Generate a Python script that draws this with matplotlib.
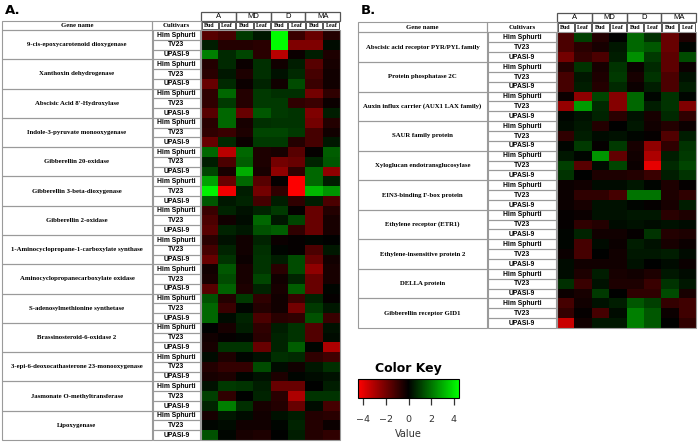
import numpy as np
import matplotlib
matplotlib.use('Agg')
import matplotlib.pyplot as plt
from matplotlib.colors import LinearSegmentedColormap, Normalize
from matplotlib.cm import ScalarMappable
from matplotlib.patches import Rectangle

# data ------------------------------------------------------------
cultivars = ['Him Sphurti', 'TV23', 'UPASI-9']
groups = ['A', 'MD', 'D', 'MA']
tissues = ['Bud', 'Leaf']

genes_a = ['9-cis-epoxycarotenoid dioxygenase', 'Xanthoxin dehydrogenase',
           "Abscisic Acid 8'-Hydroxylase", 'Indole-3-pyruvate monooxygenase',
           'Gibberellin 20-oxidase', 'Gibberellin 3-beta-dioxygenase',
           'Gibberellin 2-oxidase', '1-Aminocyclopropane-1-carboxylate synthase',
           'Aminocyclopropanecarboxylate oxidase', 'S-adenosylmethionine synthetase',
           'Brassinosteroid-6-oxidase 2', '3-epi-6-deoxocathasterone 23-monooxygenase',
           'Jasmonate O-methyltransferase', 'Lipoxygenase']

values_a = [
    [-1.5, -1.2, 1.0, 0.4, 4.4, -1.0, -1.8, -0.6],
    [0.5, -0.6, -0.6, -0.7, 4.4, -2.2, -2.2, 0.2],
    [2.2, 0.7, 1.2, -0.7, -3.2, -0.2, 0.5, -0.5],
    [-0.6, 0.7, -0.2, 0.8, -0.3, 0.5, -1.5, -0.4],
    [-0.7, 0.4, -0.5, 0.8, 0.3, 0.7, -1.2, -0.3],
    [-1.8, 0.7, -0.2, 0.6, -0.3, 1.3, -1.0, -0.3],
    [-0.8, 1.8, -0.6, 1.0, 0.8, 0.8, -2.0, -0.8],
    [-0.8, 1.0, -0.6, 1.0, 1.0, -0.8, -1.0, -0.2],
    [-1.5, 1.8, -1.8, 1.5, 1.0, 0.9, -2.2, 0.5],
    [-0.7, 1.8, -0.4, 0.8, 0.9, 0.9, -2.0, -0.6],
    [-0.8, -1.0, -0.5, 1.2, 1.2, 1.0, -1.2, -0.3],
    [-1.8, 0.7, -0.2, 1.0, 1.0, -0.6, -1.2, 0.4],
    [1.8, -3.2, 1.8, -0.5, -0.4, -1.5, -0.1, 1.6],
    [0.5, -1.3, 1.6, -0.5, -2.0, -1.8, 0.6, 1.5],
    [1.2, -0.4, 3.0, -0.4, -2.5, -0.8, 1.8, -2.5],
    [2.8, -1.8, 1.8, -1.5, -0.1, -4.4, 1.8, 0.5],
    [4.2, -4.2, 0.5, -2.0, -0.8, -4.4, 3.2, 2.6],
    [1.5, 0.4, 0.6, -1.2, 0.5, -0.8, 0.5, -1.3],
    [-1.0, 0.6, 0.3, 0.6, 1.0, -0.1, -1.8, -0.6],
    [-1.3, -0.3, 0.2, 1.8, 0.4, 1.2, -1.8, -0.4],
    [-1.5, 0.6, 0.4, 1.4, 1.6, -0.8, -1.8, -0.4],
    [-0.7, 0.3, -0.3, 0.6, -0.2, -0.1, 0.1, 0.0],
    [-1.2, 0.6, -0.3, 0.8, 0.1, -0.1, -1.3, 0.4],
    [-1.8, 0.9, -0.2, 0.9, 0.5, 1.3, -1.8, -0.3],
    [-0.3, 1.5, -0.4, 0.9, -0.7, 1.3, -2.5, -0.4],
    [-0.4, 1.3, -0.4, 1.2, -0.3, 0.6, -1.8, -0.4],
    [-1.5, 1.7, -0.5, 0.6, -0.4, 1.6, -1.8, 0.1],
    [1.4, -0.6, 1.0, -0.8, -0.3, -1.0, 0.6, -0.1],
    [1.8, -1.0, 0.1, -0.6, -0.3, -2.0, 1.0, 0.4],
    [1.8, 0.2, 0.6, -1.3, -0.7, -0.8, 1.4, -1.0],
    [0.0, -0.4, 0.5, -0.8, 0.5, 0.9, -1.4, 0.3],
    [-0.3, -0.1, 0.1, -0.7, 0.6, 0.9, -1.4, 0.2],
    [-0.4, 0.9, 0.9, -1.8, 0.6, 1.6, 0.1, -3.0],
    [0.2, -0.5, 0.1, 0.3, 0.8, 0.7, -0.8, -1.1],
    [-0.6, -0.9, -0.9, 1.3, 0.2, -0.3, 0.4, 0.8],
    [-0.4, -0.5, 0.1, 0.3, -0.5, 0.1, 0.2, 0.3],
    [0.3, 1.0, 0.9, 0.5, -1.8, -1.8, 0.0, 0.5],
    [1.1, -0.8, 0.0, 0.6, -0.7, -3.0, 0.9, 0.9],
    [0.6, 2.2, 0.8, -0.4, -0.6, -1.8, 0.2, -1.2],
    [-0.4, 0.4, 0.2, -0.3, 0.3, 0.5, -0.6, -0.7],
    [0.1, 0.2, -0.3, -0.3, 0.1, 0.6, -0.6, -0.2],
    [1.4, 0.1, -0.4, -0.5, 0.0, 0.5, -0.6, -0.8],
]

genes_b = ['Abscisic acid receptor PYR/PYL family', 'Protein phosphatase 2C',
           'Auxin influx carrier (AUX1 LAX family)', 'SAUR family protein',
           'Xyloglucan endotransglucosylase', 'EIN3-binding F-box protein',
           'Ethylene receptor (ETR1)', 'Ethylene-insensitive protein 2',
           'DELLA protein', 'Gibberellin receptor GID1']

values_b = [
    [-1.3, 1.1, -0.6, 0.0, 1.8, 0.8, -1.8, -0.5],
    [-1.3, -0.7, -0.4, 0.4, 1.8, 1.5, -1.8, 0.1],
    [-2.0, -0.9, -1.3, 0.5, 2.5, 1.0, -1.6, 1.3],
    [-0.6, 0.9, -0.4, 0.9, -0.2, 0.7, -1.6, -0.2],
    [-1.2, 0.4, -0.5, 1.0, -0.4, 0.9, -1.3, 0.3],
    [-1.2, 0.5, -0.6, 0.7, -0.2, 0.5, -1.3, 0.5],
    [-0.2, -2.5, 1.2, -2.3, 1.8, 0.1, 0.9, 0.1],
    [-2.6, 2.7, 0.7, -2.3, 1.8, 0.5, 0.9, -2.2],
    [0.1, 0.3, 0.6, -0.7, 0.3, -0.4, 0.7, -0.8],
    [0.2, 0.4, -0.6, 0.0, 0.4, -0.3, -0.6, -0.2],
    [-0.8, 0.5, 0.2, 0.3, 0.1, -0.1, -1.4, 0.5],
    [0.1, 1.0, -0.1, 1.0, -0.4, -2.5, -0.8, 0.9],
    [0.4, 0.1, 2.6, -1.7, -0.3, -3.0, 0.5, 1.0],
    [1.1, -1.5, 0.2, 1.2, -0.2, -4.0, 0.7, 1.2],
    [0.9, 0.0, -0.5, -0.5, -0.6, -1.0, 0.5, 0.9],
    [-0.2, -0.3, 0.2, 0.2, 0.4, 0.1, -0.5, -0.1],
    [-0.2, -0.8, -0.8, -1.2, 2.0, 2.0, -0.5, -0.8],
    [-0.2, -0.4, 0.3, 0.3, 0.1, -0.1, -0.4, 0.5],
    [-0.1, -0.2, 0.3, 0.3, 0.4, 0.4, -0.7, -0.5],
    [-0.1, -0.8, -0.6, 0.2, 0.3, 0.2, 0.3, 0.2],
    [0.1, 0.6, -0.3, -0.3, -0.1, 0.9, -0.6, -0.5],
    [0.1, -1.2, 0.2, -0.2, 0.5, 0.3, -0.4, -0.2],
    [-0.2, -1.2, 0.0, -0.3, 0.4, 0.4, 0.5, 0.2],
    [0.2, -0.3, -0.3, -0.3, 0.3, 0.0, 0.2, -0.2],
    [0.2, -0.5, 0.5, -0.4, -0.3, -0.5, 0.4, 0.2],
    [0.8, -1.0, 0.3, -0.5, -0.5, -1.0, 0.9, 0.4],
    [-0.2, -0.4, 1.0, 0.0, -0.8, -0.8, 1.3, -0.4],
    [-1.2, -0.3, 0.3, 0.5, 1.5, 1.1, -0.9, -1.1],
    [-0.9, -0.1, -1.2, 0.2, 2.2, 1.5, -0.2, -1.1],
    [-3.5, -0.3, 0.4, 0.4, 2.2, 1.5, 0.0, -0.8],
]

key_ticks = [-4, -2, 0, 2, 4]

# style -------------------------------------------------------------
W, H = 700, 444
vlim = 4.45
cmap = LinearSegmentedColormap.from_list('rg', ['#ff0000', '#000000', '#00ff00'])
norm = Normalize(vmin=-vlim, vmax=vlim)
line_c = '#9a9a9a'
head_c = '#555555'
serif = 'Liberation Serif'
sans = 'Liberation Sans'

fig = plt.figure(figsize=(7, 4.44), dpi=100)

# overlay in pixel units for the table decoration
ov = fig.add_axes([0, 0, 1, 1], zorder=5)
ov.set_xlim(0, W)
ov.set_ylim(H, 0)
ov.axis('off')
ov.patch.set_alpha(0)


def px_rect(x0, y0, x1, y1):
    return [x0 / W, 1 - y1 / H, (x1 - x0) / W, (y1 - y0) / H]


def box(x0, y0, x1, y1, ec=line_c, lw=0.8):
    ov.add_patch(Rectangle((x0, y0), x1 - x0, y1 - y0, fc='none', ec=ec, lw=lw))


def panel(lay, label, genes, values):
    x0, x1, x2, x3 = lay['x']
    y_grp, y_hdr, y_top, y_bot = lay['y']
    vals = np.array(values)
    nrow, ncol = vals.shape

    # heatmap
    ax = fig.add_axes(px_rect(x2, y_top, x3, y_bot))
    ax.pcolormesh(vals, cmap=cmap, norm=norm)
    ax.set_xlim(0, ncol)
    ax.set_ylim(nrow, 0)
    ax.axis('off')

    rh = (y_bot - y_top) / nrow
    cw = (x3 - x2) / ncol

    # panel letter
    ov.text(x0 + 3, 10, label, fontsize=9.5, fontweight='bold', family='DejaVu Sans',
            ha='left', va='center')

    # group header
    for g, name in enumerate(groups):
        gx = x2 + g * 2 * cw
        box(gx, y_grp, gx + 2 * cw, y_hdr, ec=head_c, lw=0.9)
        ov.text(gx + cw, (y_grp + y_hdr) / 2 + 0.3, name, fontsize=5.5, family=sans,
                ha='center', va='center')
    for c in range(ncol):
        cx = x2 + c * cw
        box(cx + 0.6, y_hdr + 0.6, cx + cw - 0.6, y_top - 0.6, ec=head_c, lw=0.7)
        ov.text(cx + cw / 2, (y_hdr + y_top) / 2 + 0.2, tissues[c % 2], fontsize=4.3,
                family=serif, fontweight='bold', ha='center', va='center')

    box(x0, y_hdr, x1, y_top)
    box(x1, y_hdr, x2, y_top)
    ov.text((x0 + x1) / 2, (y_hdr + y_top) / 2, 'Gene name', fontsize=4.9, family=serif,
            fontweight='bold', ha='center', va='center')
    ov.text((x1 + x2) / 2, (y_hdr + y_top) / 2, 'Cultivars', fontsize=4.9, family=serif,
            fontweight='bold', ha='center', va='center')

    # gene rows
    for i, gene in enumerate(genes):
        gy0 = y_top + 3 * i * rh
        box(x0, gy0, x1, gy0 + 3 * rh)
        ov.text((x0 + x1) / 2, gy0 + 1.5 * rh, gene, fontsize=4.9, family=serif,
                fontweight='bold', ha='center', va='center')
        for k, cv in enumerate(cultivars):
            ry = gy0 + k * rh
            box(x1 + 0.7, ry, x2 - 0.7, ry + rh)
            ov.text((x1 + x2) / 2, ry + rh / 2 + 0.2, cv, fontsize=4.9, family=sans,
                    fontweight='bold', ha='center', va='center')
    box(x2, y_top, x3, y_bot)


panel({'x': (2, 152, 201, 340), 'y': (12, 21, 30, 440)}, 'A.', genes_a, values_a)
panel({'x': (358, 487, 557, 696), 'y': (12.7, 22.4, 32.5, 328)}, 'B.', genes_b, values_b)

# color key
cax = fig.add_axes(px_rect(358, 379, 459, 398))
cb = fig.colorbar(ScalarMappable(norm=norm, cmap=cmap), cax=cax,
                  orientation='horizontal', ticks=key_ticks)
cb.outline.set_linewidth(0.8)
cax.tick_params(length=5, width=0.9, pad=7, labelsize=6.8, colors='#333333')
cax.set_xlabel('Value', fontsize=7, color='#333333', labelpad=4)
cax.set_title('Color Key', fontsize=9, fontweight='bold', pad=5)

fig.savefig('out.png', dpi=100)
